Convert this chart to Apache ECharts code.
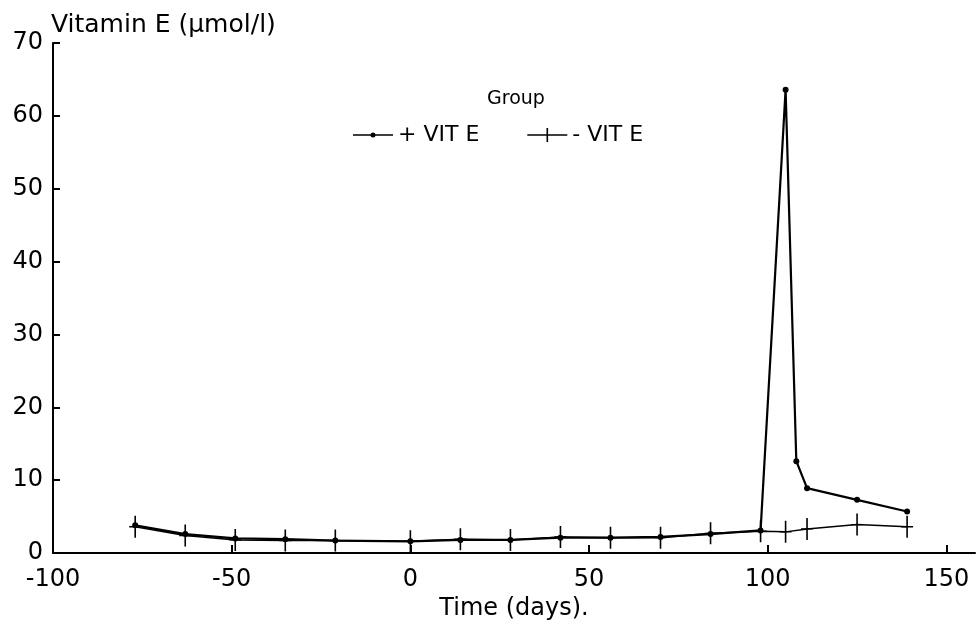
<!DOCTYPE html>
<html>
<head>
<meta charset="utf-8">
<script src="https://cdn.jsdelivr.net/npm/echarts@6/dist/echarts.min.js"></script>
<style>html,body{margin:0;padding:0;background:#fff}#c{width:979px;height:638px}</style>
</head>
<body>
<div id="c"></div>
<script>
const xTicks = [-100, -50, 0, 50, 100, 150];
const yTicks = [0, 10, 20, 30, 40, 50, 60, 70];
const plusDays = [-77, -63, -49, -35, -21, 0, 14, 28, 42, 56, 70, 84, 98, 105, 108, 111, 125, 139];
const plusVitE = [3.8, 2.6, 2.0, 1.9, 1.7, 1.6, 1.8, 1.8, 2.1, 2.1, 2.2, 2.6, 3.1, 63.6, 12.6, 8.9, 7.3, 5.7];
const minusDays = [-77, -63, -49, -35, -21, 0, 14, 28, 42, 56, 70, 84, 98, 105, 111, 125, 139];
const minusVitE = [3.6, 2.4, 1.8, 1.7, 1.7, 1.6, 1.9, 1.8, 2.2, 2.1, 2.1, 2.7, 3.0, 2.9, 3.3, 3.9, 3.6];

const font = 'DejaVu Sans';
const crossPath = 'path://M-0.8,-10 L0.8,-10 L0.8,10 L-0.8,10 Z M-6,-0.6 L6,-0.6 L6,0.6 L-6,0.6 Z';
const legendDotIcon = 'path://M0,1.8 L40,1.8 L40,3.2 L0,3.2 Z M22.5,2.5 A2.5,2.5 0 1 1 17.5,2.5 A2.5,2.5 0 1 1 22.5,2.5 Z';
const legendCrossIcon = 'path://M0,6.3 L40,6.3 L40,7.7 L0,7.7 Z M19.2,0 L20.8,0 L20.8,14 L19.2,14 Z';

const chart = echarts.init(document.getElementById('c'), null, {renderer: 'canvas'});
chart.setOption({
  backgroundColor: '#fff',
  animation: false,
  textStyle: {fontFamily: font, color: '#000'},
  title: [
    {text: 'Vitamin E (µmol/l)', left: 46, top: 8, textStyle: {fontFamily: font, fontSize: 25, fontWeight: 'normal', color: '#000'}},
    {text: 'Group', left: 511, top: 85, textAlign: 'center', textStyle: {fontFamily: font, fontSize: 19, fontWeight: 'normal', color: '#000'}}
  ],
  legend: {
    top: 119, left: 348, itemGap: 48, itemWidth: 40, itemHeight: 14, symbolKeepAspect: true,
    textStyle: {fontFamily: font, fontSize: 22, color: '#000'},
    data: [
      {name: '+ VIT E', icon: legendDotIcon},
      {name: '- VIT E', icon: legendCrossIcon}
    ]
  },
  grid: {left: 53, right: 4, top: 43, bottom: 85, containLabel: false},
  xAxis: {
    type: 'value', min: -100, max: 158, interval: 50,
    name: 'Time (days).', nameLocation: 'middle', nameGap: 42,
    nameTextStyle: {fontFamily: font, fontSize: 24, color: '#000'},
    axisLine: {onZero: false, lineStyle: {color: '#000', width: 2}},
    axisTick: {inside: true, length: 8, lineStyle: {color: '#000', width: 2}, customValues: xTicks},
    axisLabel: {fontFamily: font, fontSize: 24, color: '#000', margin: 15, customValues: xTicks},
    splitLine: {show: false}
  },
  yAxis: {
    type: 'value', min: 0, max: 70, interval: 10,
    axisLine: {show: true, onZero: false, lineStyle: {color: '#000', width: 2}},
    axisTick: {show: true, inside: true, length: 7, lineStyle: {color: '#000', width: 2}, customValues: yTicks},
    axisLabel: {fontFamily: font, fontSize: 24, color: '#000', margin: 10, customValues: yTicks},
    splitLine: {show: false}
  },
  series: [
    {
      name: '+ VIT E', type: 'line',
      data: plusDays.map((d, i) => [d, plusVitE[i]]),
      symbol: 'circle', symbolSize: 6, showAllSymbol: true,
      lineStyle: {color: '#000', width: 2.2},
      itemStyle: {color: '#000'}
    },
    {
      name: '- VIT E', type: 'line',
      data: minusDays.map((d, i) => [d, minusVitE[i]]),
      symbol: crossPath, symbolSize: [12, 22], showAllSymbol: true,
      lineStyle: {color: '#000', width: 1.5},
      itemStyle: {color: '#000'}
    }
  ]
});
</script>
</body>
</html>
